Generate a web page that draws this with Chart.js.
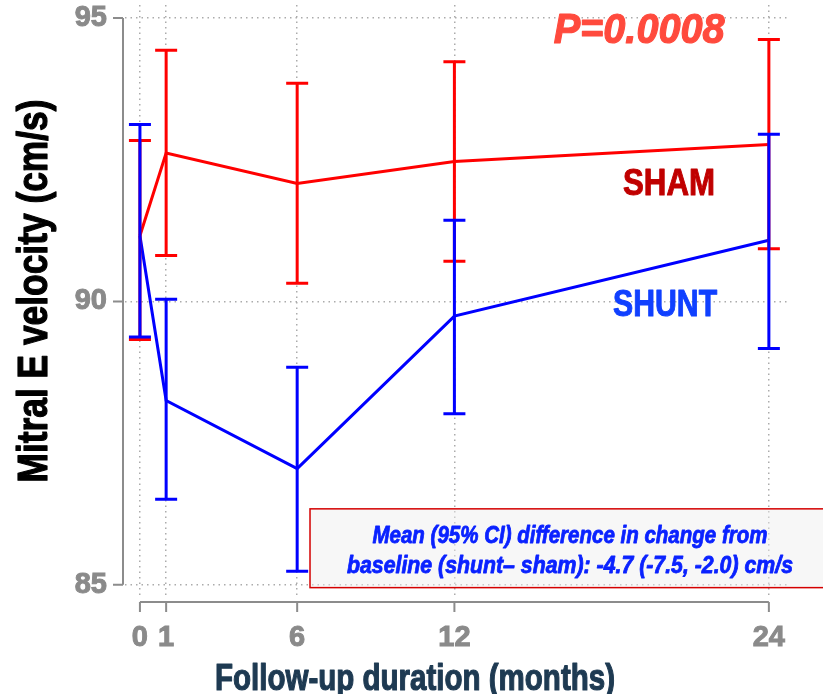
<!DOCTYPE html>
<html>
<head>
<meta charset="utf-8">
<script src="https://cdn.jsdelivr.net/npm/chart.js@4.4.1/dist/chart.umd.min.js"></script>
<style>
  html, body { margin: 0; padding: 0; background: #fff; }
  #wrap { width: 823px; height: 694px; position: relative; }
</style>
</head>
<body>
<div id="wrap"><canvas id="chart"></canvas></div>
<script>
// data
const months = [0, 1, 6, 12, 24];
const shamMean = [91.16, 92.62, 92.08, 92.47, 92.77];
const shamLower = [89.33, 90.81, 90.32, 90.71, 90.93];
const shamUpper = [92.84, 94.43, 93.85, 94.23, 94.62];
const shuntMean = [91.16, 88.25, 87.05, 89.74, 91.08];
const shuntLower = [89.37, 86.51, 85.24, 88.02, 89.17];
const shuntUpper = [93.12, 90.04, 88.84, 91.43, 92.95];
const xTicks = [0, 1, 6, 12, 24];
const yTicks = [85, 90, 95];

const FONT = '"Liberation Sans", Arial, sans-serif';

function toPoints(xs, ys) {
    return xs.map((x, i) => ({ x: x, y: ys[i] }));
}

// text squeezed to a given width (the original uses a condensed heavy face)
function fitText(ctx, text, x, y, width, font, color, rot, heavy) {
    ctx.save();
    ctx.translate(x, y);
    if (rot) ctx.rotate(rot);
    ctx.font = font;
    ctx.fillStyle = color;
    ctx.strokeStyle = color;
    ctx.textAlign = 'center';
    ctx.textBaseline = 'alphabetic';
    const w = ctx.measureText(text).width;
    ctx.scale(width / w, 1);
    ctx.fillText(text, 0, 0);
    if (heavy) {
        ctx.lineWidth = heavy;
        ctx.lineJoin = 'round';
        ctx.strokeText(text, 0, 0);
    }
    ctx.restore();
}

// error bars with caps
const errorBars = {
    id: 'errorBars',
    afterDatasetsDraw(chart) {
        const { ctx, scales: { x, y } } = chart;
        const sets = [
            { lo: shamLower, hi: shamUpper, color: '#ff0000' },
            { lo: shuntLower, hi: shuntUpper, color: '#0000ff' }
        ];
        ctx.save();
        ctx.lineWidth = 3;
        sets.forEach(s => {
            ctx.strokeStyle = s.color;
            months.forEach((m, i) => {
                const px = x.getPixelForValue(m);
                const top = y.getPixelForValue(s.hi[i]);
                const bot = y.getPixelForValue(s.lo[i]);
                ctx.beginPath();
                ctx.moveTo(px, top); ctx.lineTo(px, bot);
                ctx.moveTo(px - 11, top); ctx.lineTo(px + 11, top);
                ctx.moveTo(px - 11, bot); ctx.lineTo(px + 11, bot);
                ctx.stroke();
            });
        });
        ctx.restore();
    }
};

// detached axis lines, axis titles and text notes
const extras = {
    id: 'extras',
    afterDraw(chart) {
        const { ctx, scales: { x, y } } = chart;
        ctx.save();
        ctx.strokeStyle = '#8c8c8c';
        ctx.lineWidth = 2;
        const ax = chart.chartArea.left - 2;
        ctx.beginPath();
        ctx.moveTo(ax, y.getPixelForValue(yTicks[0]));
        ctx.lineTo(ax, y.getPixelForValue(yTicks[yTicks.length - 1]));
        yTicks.forEach(t => {
            const py = y.getPixelForValue(t);
            ctx.moveTo(ax - 10, py); ctx.lineTo(ax, py);
        });
        const ay = chart.chartArea.bottom + 7;
        ctx.moveTo(x.getPixelForValue(xTicks[0]), ay);
        ctx.lineTo(x.getPixelForValue(xTicks[xTicks.length - 1]), ay);
        xTicks.forEach(t => {
            const px = x.getPixelForValue(t);
            ctx.moveTo(px, ay); ctx.lineTo(px, ay + 10);
        });
        ctx.stroke();

        // summary box
        const bx = x.getPixelForValue(6.49);
        const by = y.getPixelForValue(86.34);
        const bb = y.getPixelForValue(84.95);
        ctx.fillStyle = 'rgba(238,238,238,0.45)';
        ctx.fillRect(bx, by, chart.width - bx + 4, bb - by);
        ctx.strokeStyle = '#d40000';
        ctx.lineWidth = 1.5;
        ctx.strokeRect(bx, by, chart.width - bx + 4, bb - by);
        ctx.restore();

        const bcx = x.getPixelForValue(16.41);
        fitText(ctx, 'Mean (95% CI) difference in change from', bcx, y.getPixelForValue(85.74), 395,
            'italic bold 23px ' + FONT, '#0a22ff', 0, 0.8);
        fitText(ctx, 'baseline (shunt\u2013 sham): -4.7 (-7.5, -2.0) cm/s', bcx, y.getPixelForValue(85.21), 446,
            'italic bold 23px ' + FONT, '#0a22ff', 0, 0.8);

        fitText(ctx, 'P=0.0008', x.getPixelForValue(19.05), y.getPixelForValue(94.56), 171,
            'italic bold 43px ' + FONT, '#ff4a3d', 0, 1.2);
        fitText(ctx, 'SHAM', x.getPixelForValue(20.19), y.getPixelForValue(91.88), 92,
            'bold 37px ' + FONT, '#c00000', 0, 1);
        fitText(ctx, 'SHUNT', x.getPixelForValue(20.04), y.getPixelForValue(89.74), 104,
            'bold 37px ' + FONT, '#1040ff', 0, 1);

        // axis titles
        fitText(ctx, 'Follow-up duration (months)', 415, 690, 400, 'bold 37px ' + FONT, '#1e3a52', 0, 1.2);
        fitText(ctx, 'Mitral E velocity (cm/s)', 47, 291, 383, 'bold 42px ' + FONT, '#000000', -Math.PI / 2, 1.2);
    }
};

new Chart(document.getElementById('chart'), {
    type: 'line',
    data: {
        datasets: [
            {
                label: 'SHAM',
                data: toPoints(months, shamMean),
                borderColor: '#ff0000',
                borderWidth: 3,
                pointRadius: 0,
                tension: 0
            },
            {
                label: 'SHUNT',
                data: toPoints(months, shuntMean),
                borderColor: '#0000ff',
                borderWidth: 3,
                pointRadius: 0,
                tension: 0
            }
        ]
    },
    options: {
        responsive: true,
        maintainAspectRatio: false,
        animation: false,
        layout: { padding: { top: 5, right: 35, left: 0, bottom: 0 } },
        plugins: {
            legend: { display: false },
            tooltip: { enabled: false }
        },
        scales: {
            x: {
                type: 'linear',
                min: -0.57,
                max: 24.73,
                afterBuildTicks: s => { s.ticks = xTicks.map(v => ({ value: v })); },
                afterFit: s => { s.height = 99; s.paddingLeft = 0; s.paddingRight = 0; },
                border: { display: false, dash: [1.5, 4] },
                grid: { color: '#ababab', lineWidth: 1.5, drawTicks: false },
                ticks: {
                    color: '#8a8a8a',
                    textStrokeColor: '#8a8a8a',
                    textStrokeWidth: 1,
                    padding: 26,
                    maxRotation: 0,
                    font: { family: FONT, size: 29, weight: 'bold' }
                }
            },
            y: {
                min: 84.82,
                max: 95.23,
                afterBuildTicks: s => { s.ticks = yTicks.map(v => ({ value: v })); },
                afterFit: s => { s.width = 125; s.paddingTop = 0; s.paddingBottom = 0; },
                border: { display: false, dash: [1.5, 4] },
                grid: { color: '#ababab', lineWidth: 1.5, drawTicks: false },
                ticks: {
                    color: '#8a8a8a',
                    textStrokeColor: '#8a8a8a',
                    textStrokeWidth: 1,
                    padding: 18,
                    font: { family: FONT, size: 29, weight: 'bold' }
                }
            }
        }
    },
    plugins: [errorBars, extras]
});
</script>
</body>
</html>
